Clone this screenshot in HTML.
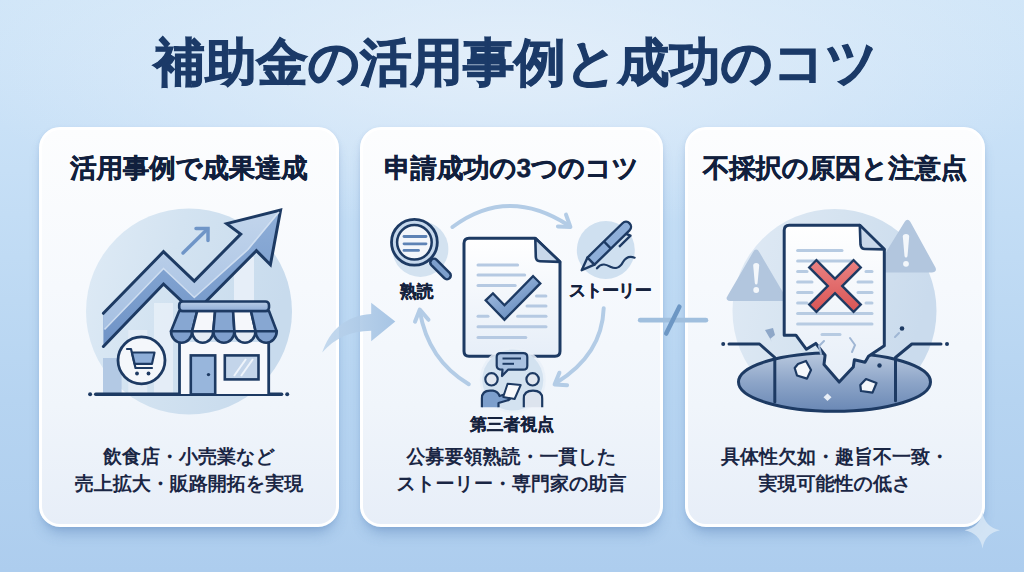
<!DOCTYPE html>
<html lang="ja">
<head>
<meta charset="utf-8">
<style>
*{margin:0;padding:0;box-sizing:border-box}
html,body{width:1024px;height:572px;overflow:hidden}
body{position:relative;font-family:"Liberation Sans",sans-serif;text-rendering:geometricPrecision;
background:
 radial-gradient(ellipse 560px 170px at 512px 60px, rgba(228,239,250,0.92) 0%, rgba(228,239,250,0) 100%),
 linear-gradient(180deg,#d1e6f8 0%,#c9e1f7 22%,#c0dbf4 45%,#b6d4f1 70%,#adcdee 100%);}
.title{position:absolute;left:4px;width:1024px;top:31.5px;text-align:center;font-size:51.3px;font-weight:700;color:#1b3a68;-webkit-text-stroke:1.1px #1b3a68;letter-spacing:0;line-height:62px;white-space:nowrap}
.card{position:absolute;top:127px;height:400px;border-radius:21px;border:3px solid #fff;
background:linear-gradient(180deg,#fcfdfe 0%,#f6f9fd 40%,#f0f5fb 70%,#e7eef8 100%);
box-shadow:0 10px 14px -5px rgba(60,105,165,0.38),0 1px 4px rgba(70,115,170,0.12);overflow:hidden}
.c1{left:39px;width:300px}
.c2{left:360px;width:303px}
.c3{left:685px;width:300px}
.h{position:absolute;left:0;right:0;top:22px;text-align:center;font-size:26.3px;font-weight:700;color:#111f3d;-webkit-text-stroke:0.45px #111f3d;line-height:32px;white-space:nowrap}
.b{position:absolute;left:0;right:0;top:314px;text-align:center;font-size:19px;font-weight:700;color:#1a2644;line-height:27px;white-space:nowrap}
svg.ill{position:absolute;left:0;top:0}
.lbl{position:absolute;font-size:16.8px;font-weight:700;color:#15223d;-webkit-text-stroke:0.3px #15223d;white-space:nowrap;line-height:20px}
</style>
</head>
<body>
<div class="title">補助金の活用事例と成功のコツ</div>

<div class="card c1">
 <div class="h">活用事例で成果達成</div>
 <div class="b">飲食店・小売業など<br>売上拡大・販路開拓を実現</div>
</div>

<div class="card c2">
 <div class="h">申請成功の3つのコツ</div>
 <div class="b">公募要領熟読・一貫した<br>ストーリー・専門家の助言</div>
</div>

<div class="card c3">
 <div class="h">不採択の原因と注意点</div>
 <div class="b">具体性欠如・趣旨不一致・<br>実現可能性の低さ</div>
</div>


<svg class="page" width="1024" height="572" viewBox="0 0 1024 572" style="position:absolute;left:0;top:0">
<defs>
 <linearGradient id="circ1" x1="0" y1="0" x2="1" y2="0.3">
  <stop offset="0" stop-color="#dfebf6"/><stop offset="0.45" stop-color="#d3e3f1"/><stop offset="1" stop-color="#c8dbed"/>
 </linearGradient>
 <linearGradient id="bandTop" x1="0" y1="0" x2="0" y2="1">
  <stop offset="0" stop-color="#c2d5ec"/><stop offset="1" stop-color="#a6c0e2"/>
 </linearGradient>
 <linearGradient id="bandBot" x1="0" y1="0" x2="0" y2="1">
  <stop offset="0" stop-color="#8eaed8"/><stop offset="1" stop-color="#6f93c6"/>
 </linearGradient>
 <linearGradient id="awn" x1="0" y1="0" x2="0" y2="1">
  <stop offset="0" stop-color="#b9cde7"/><stop offset="1" stop-color="#8eacd6"/>
 </linearGradient>

 <linearGradient id="docg" x1="0" y1="0" x2="0" y2="1">
  <stop offset="0" stop-color="#ffffff"/><stop offset="1" stop-color="#e6eef8"/>
 </linearGradient>
 <linearGradient id="chk" x1="0" y1="0" x2="1" y2="1">
  <stop offset="0" stop-color="#a9c2e4"/><stop offset="1" stop-color="#5f86ba"/>
 </linearGradient>
 <linearGradient id="circ3" x1="0" y1="0" x2="1" y2="0.3">
  <stop offset="0" stop-color="#e0eaf5"/><stop offset="0.5" stop-color="#d5e3f0"/><stop offset="1" stop-color="#cadbed"/>
 </linearGradient>
 <linearGradient id="hole" x1="0" y1="0" x2="0" y2="1">
  <stop offset="0" stop-color="#b9c9df"/><stop offset="0.5" stop-color="#8da5c8"/><stop offset="1" stop-color="#6a88b5"/>
 </linearGradient>
 <linearGradient id="bigarr" x1="0" y1="0" x2="1" y2="0">
  <stop offset="0" stop-color="#bcd4ec" stop-opacity="0.85"/><stop offset="1" stop-color="#a3c2e3" stop-opacity="0.95"/>
 </linearGradient>

 <linearGradient id="redg" gradientUnits="userSpaceOnUse" x1="0" y1="262" x2="0" y2="310">
  <stop offset="0" stop-color="#ea8080"/><stop offset="1" stop-color="#d95757"/>
 </linearGradient>
</defs>

<!-- ===== Card 1 illustration ===== -->
<circle cx="189" cy="311.5" r="103" fill="url(#circ1)"/>
<rect x="103" y="358" width="18.6" height="36" fill="#b3c9e4"/>
<rect x="128.3" y="330" width="19" height="64" fill="#e3ecf6" opacity="0.9"/>
<rect x="154" y="303" width="19" height="91" fill="#e6eef7" opacity="0.9"/>
<rect x="234" y="257" width="20" height="50" fill="#e9f0f8" opacity="0.9"/>
<!-- arrow band -->
<polygon points="103.4,313.3 163.5,251.7 194.3,281.1 240.7,234.1 226.7,223.6 280.6,210.1 270.4,264.7 256.4,250.7 194.3,313.2 163.5,284 103.4,346.5" fill="url(#bandBot)"/>
<polygon points="103.4,313.3 163.5,251.7 194.3,281.1 240.7,234.1 226.7,223.6 280.6,210.1 248,249 194.3,297 163.5,268 103.4,330" fill="url(#bandTop)"/>
<polyline points="103.4,313.3 163.5,251.7 194.3,281.1 240.7,234.1 226.7,223.6 280.6,210.1 270.4,264.7 256.4,250.7 194.3,313.2 163.5,284 103.4,346.5" fill="none" stroke="#1d3a63" stroke-width="3" stroke-linejoin="miter" stroke-linecap="round"/>
<polyline points="104.5,329.5 163.5,268.5 194.3,297.5 248,249.5 279,212" fill="none" stroke="#dce8f6" stroke-width="1.6" opacity="0.85"/>
<!-- small arrow -->
<g stroke="#6f95c7" stroke-width="3.5" stroke-linecap="round" fill="none">
 <line x1="183" y1="253" x2="207.5" y2="229"/>
 <polyline points="196,228.5 208,228.5 208,240.5"/>
</g>
<!-- ground -->
<line x1="95.7" y1="394.2" x2="281.6" y2="394.2" stroke="#1d3a63" stroke-width="3.5" stroke-linecap="round"/>
<circle cx="90.1" cy="394.2" r="2" fill="#1d3a63"/><circle cx="287.2" cy="394.2" r="2" fill="#1d3a63"/>
<!-- cart circle -->
<circle cx="141.5" cy="360.3" r="23.5" fill="#f4f7fb" stroke="#1d3a63" stroke-width="2.8"/>
<g stroke="#1d3a63" stroke-width="2.2" fill="none" stroke-linejoin="round" stroke-linecap="round">
 <polyline points="127,349 131,349 135.5,368 152,368"/>
 <path d="M132,352.5 L154.5,352.5 L152,363.8 L134.6,363.8 Z" fill="#8eaed8"/>
</g>
<circle cx="137" cy="373.5" r="1.9" fill="#1d3a63"/><circle cx="148.5" cy="373.5" r="1.9" fill="#1d3a63"/>
<!-- store -->
<rect x="179" y="342" width="90" height="52" fill="#f6f8fc"/>
<line x1="179.5" y1="340" x2="179.5" y2="394" stroke="#1d3a63" stroke-width="2.8"/>
<line x1="268.7" y1="340" x2="268.7" y2="394" stroke="#1d3a63" stroke-width="2.8"/>
<rect x="190.8" y="355.4" width="24.4" height="39" fill="#98b6dc" stroke="#1d3a63" stroke-width="2.6"/>
<circle cx="208.5" cy="374.6" r="1.7" fill="#1d3a63"/>
<rect x="224.8" y="355.4" width="33.7" height="24" fill="#c3d5ea" stroke="#1d3a63" stroke-width="2.6"/>
<g stroke="#eef4fb" stroke-width="2"><line x1="234" y1="376" x2="246" y2="359"/><line x1="241" y1="376" x2="253" y2="359"/></g>
<!-- awning -->
<g stroke="#1d3a63" stroke-width="2.6" stroke-linejoin="round">
 <polygon points="179.2,311 197.2,311 192.1,331.3 171,331.3" fill="#87a7d2"/>
 <polygon points="197.2,311 215.1,311 213.3,331.3 192.1,331.3" fill="#f5f7fb"/>
 <polygon points="215.1,311 233.1,311 234.4,331.3 213.3,331.3" fill="#87a7d2"/>
 <polygon points="233.1,311 251,311 255.6,331.3 234.4,331.3" fill="#f5f7fb"/>
 <polygon points="251,311 269,311 276.7,331.3 255.6,331.3" fill="#87a7d2"/>
 <path d="M171,331.3 a10.57,11.5 0 0 0 21.14,0 Z" fill="#7f9fcd"/>
 <path d="M192.1,331.3 a10.57,11.5 0 0 0 21.14,0 Z" fill="#e4ebf5"/>
 <path d="M213.3,331.3 a10.57,11.5 0 0 0 21.14,0 Z" fill="#7f9fcd"/>
 <path d="M234.4,331.3 a10.57,11.5 0 0 0 21.14,0 Z" fill="#e4ebf5"/>
 <path d="M255.6,331.3 a10.57,11.5 0 0 0 21.14,0 Z" fill="#7f9fcd"/>
 <rect x="179.2" y="301.5" width="89.8" height="9.5" rx="3.5" fill="url(#awn)"/>
</g>

<!-- ===== Card 2 illustration ===== -->
<g fill="none" stroke="#b3cce6" stroke-width="4" stroke-linecap="round" stroke-linejoin="round">
 <path d="M452.5,227 Q507.4,186 568,225"/>
 <polyline points="566,214.6 570.4,227 557.9,226.4"/>
 <path d="M603.7,308.3 Q602,355 556,383"/>
 <polyline points="559.4,372.7 554.6,384.4 567.1,385.2"/>
 <path d="M468.8,384.2 Q428,360 419.8,311"/>
 <polyline points="415,321.7 419.8,309.5 428.5,319.8"/>
</g>
<!-- magnifier -->
<circle cx="420.4" cy="249" r="28" fill="#d3e2f0"/>
<line x1="434" y1="262.5" x2="447" y2="275.5" stroke="#1d3a63" stroke-width="10" stroke-linecap="round"/>
<line x1="434" y1="262.5" x2="447" y2="275.5" stroke="#7d9fcc" stroke-width="5" stroke-linecap="round"/>
<circle cx="414.4" cy="242.3" r="22.9" fill="#c6d8ec" stroke="#1d3a63" stroke-width="2.8"/>
<circle cx="414.4" cy="242.3" r="17.3" fill="#f3f6fb" stroke="#1d3a63" stroke-width="2.5"/>
<g stroke="#5d82b5" stroke-width="2.8" stroke-linecap="round">
 <line x1="404" y1="236.5" x2="426" y2="236.5"/><line x1="404" y1="243.8" x2="426" y2="243.8"/><line x1="404" y1="250.4" x2="418.5" y2="250.4"/>
</g>
<!-- pen -->
<circle cx="605.8" cy="250" r="29" fill="#cfe0f0"/>
<g transform="translate(581.7,270.2) rotate(-44.4)" stroke="#1d3a63" stroke-width="2.4" stroke-linejoin="round">
 <path d="M0,0 L13,-5 L13,5 Z" fill="#c6d7ec"/>
 <path d="M13,-5 L62,-5 A5,5 0 0 1 62,5 L13,5 Z" fill="#8fafd9"/>
 <line x1="36" y1="-5" x2="36" y2="5"/>
 <polyline points="57,5 59,9.5 43,9.5" fill="none"/>
</g>
<path d="M597,268.3 C602,262 607,265 611,267 C615,269 620,268 623,262 C626,257 630,256 634.6,257.7" fill="none" stroke="#1d3a63" stroke-width="2.2" stroke-linecap="round"/>
<!-- document -->
<path d="M469,238.3 L535.3,238.3 L560,261.9 L560,351.3 Q560,356.3 555,356.3 L469,356.3 Q464,356.3 464,351.3 L464,243.3 Q464,238.3 469,238.3 Z" fill="url(#docg)" stroke="#1d3a63" stroke-width="3" stroke-linejoin="round"/>
<path d="M535.3,238.3 L535.8,257 Q536,261 540,261.2 L560,261.9 Z" fill="#c9d8ea" stroke="#1d3a63" stroke-width="2.6" stroke-linejoin="round"/>
<g stroke="#b5c9e2" stroke-width="3" stroke-linecap="round">
 <line x1="478" y1="264.9" x2="517.6" y2="264.9"/>
 <line x1="478" y1="274.9" x2="524.7" y2="274.9"/>
 <line x1="478" y1="285.5" x2="515.2" y2="285.5"/>
 <line x1="536.5" y1="296.1" x2="545.9" y2="296.1"/>
 <line x1="527" y1="306" x2="546" y2="306"/>
 <line x1="478" y1="316.2" x2="488" y2="316.2"/><line x1="517.6" y1="316.2" x2="546" y2="316.2"/>
 <line x1="478" y1="326.8" x2="546" y2="326.8"/>
 <line x1="478" y1="337.4" x2="525.8" y2="337.4"/>
</g>
<polyline points="488.5,296 504.5,312.5 537.5,279" fill="none" stroke="#1d3a63" stroke-width="12.5" stroke-linejoin="miter" stroke-linecap="butt"/>
<polyline points="490.1,297.7 504.5,312.5 535.9,280.6" fill="none" stroke="url(#chk)" stroke-width="7.8" stroke-linejoin="miter" stroke-linecap="butt"/>
<!-- people -->
<circle cx="512.8" cy="380" r="33" fill="#e9f0f8" opacity="0.85"/>
<circle cx="512.8" cy="380" r="30.5" fill="#d3e2f0"/>
<g stroke="#1d3a63" stroke-width="2.2" stroke-linejoin="round">
 <path d="M500.7,353.1 L523.3,353.1 Q527.3,353.1 527.3,357.1 L527.3,365.7 Q527.3,369.7 523.3,369.7 L508,369.7 L502,376 L502.5,369.7 Q496.7,369.7 496.7,365.7 L496.7,357.1 Q496.7,353.1 500.7,353.1 Z" fill="#a9c1e0"/>
 <line x1="502.5" y1="358.5" x2="521" y2="358.5" stroke-width="2"/>
 <line x1="502.5" y1="363.8" x2="514" y2="363.8" stroke-width="2"/>
 <circle cx="491.5" cy="379.3" r="6.2" fill="#e1e7f0"/>
 <circle cx="532.6" cy="379.3" r="6.2" fill="#e1e7f0"/>
 <path d="M523.8,407.3 L523.8,398.5 Q523.8,390.7 533,390.7 Q542.2,390.7 542.2,398.5 L542.2,407.3" fill="#dde4ee"/>
 <path d="M481.9,407.3 L481.9,398.5 Q481.9,390.7 490,390.7 L493,390.7 Q498,391.5 499.5,396 L506,394 Q510,393.5 510.5,396.5 Q511,399.5 507,400.5 L498.5,403 L498.5,407.3" fill="#7d9fcc"/>
 <path d="M507.6,383.7 L520.7,385 L514.6,399 L503.2,397 Z" fill="#f7f9fc" stroke-width="2"/>
</g>

<!-- ===== Card 3 illustration ===== -->
<circle cx="834.5" cy="311" r="102" fill="url(#circ3)"/>
<path d="M754.6,252.5 Q756.2,249.5 757.8,252.5 L784,297 Q785.5,299.5 782,299.5 L730.5,299.5 Q727,299.5 728.6,297 Z" fill="#b2c6de" stroke="#b2c6de" stroke-width="3" stroke-linejoin="round"/>
<path d="M906,222.5 Q907.5,220 909,222.5 L934,268 Q935.5,271 932,271 L880,271 Q876.5,271 878,268 Z" fill="#b2c6de" stroke="#b2c6de" stroke-width="3" stroke-linejoin="round"/>
<path d="M753.2,265.5 Q753.2,263 756.2,263 Q759.2,263 759.2,265.5 L757.6,283 Q757.3,284.5 756.2,284.5 Q755.1,284.5 754.8,283 Z" fill="#f3f7fb"/>
<path d="M902.8,236.5 Q902.8,234 906,234 Q909.2,234 909.2,236.5 L907.5,256 Q907.2,257.5 906,257.5 Q904.8,257.5 904.5,256 Z" fill="#f3f7fb"/>
<circle cx="756.2" cy="290" r="2.9" fill="#f3f7fb"/><circle cx="906" cy="263.8" r="2.9" fill="#f3f7fb"/>
<!-- hole -->
<ellipse cx="834.5" cy="382" rx="96" ry="29.3" fill="url(#hole)" stroke="#1d3a63" stroke-width="3"/>
<g fill="none" stroke="#1d3a63" stroke-width="3" stroke-linecap="round" stroke-linejoin="round">
 <polyline points="729,344 759.5,344 774.8,357.5 774.8,402"/>
 <polyline points="941,344 911.9,344 895.5,357.5 895.5,400.8"/>
</g>
<circle cx="723.2" cy="344" r="2" fill="#1d3a63"/><circle cx="947" cy="344" r="2" fill="#1d3a63"/>
<!-- torn document -->
<path d="M784.2,335.2 L784.2,230.2 Q784.2,225.2 789.2,225.2 L859.8,225.2 L884.3,249.4 L884.3,345.8 L868.5,356.3 L865,362.2 L854.4,359.8 L853.3,366.9 L839.2,382.1 L824,364.5 L825.1,355.2 L815.8,343.4 L806.4,349.3 L795.9,335.2 Z" fill="url(#docg)" stroke="#1d3a63" stroke-width="3" stroke-linejoin="round"/>
<path d="M859.8,225.2 L860.5,244.5 Q861,249 865,249 L884.3,249.4 Z" fill="#c9d8ea" stroke="#1d3a63" stroke-width="2.6" stroke-linejoin="round"/>
<g stroke="#b7cbe2" stroke-width="3" stroke-linecap="round">
 <line x1="797.6" y1="250.4" x2="842" y2="250.4"/>
 <line x1="797.6" y1="261" x2="852" y2="261"/>
 <line x1="797.6" y1="271.4" x2="807" y2="271.4"/><line x1="866" y1="271.4" x2="872" y2="271.4"/>
 <line x1="797.6" y1="282" x2="812" y2="282"/><line x1="858" y1="282" x2="872" y2="282"/>
 <line x1="797.6" y1="292.4" x2="812" y2="292.4"/><line x1="858" y1="292.4" x2="872" y2="292.4"/>
 <line x1="797.6" y1="302.9" x2="807" y2="302.9"/><line x1="866" y1="302.9" x2="872" y2="302.9"/>
 <line x1="797.6" y1="313.4" x2="872" y2="313.4"/>
 <line x1="797.6" y1="323.9" x2="872" y2="323.9"/>
 <line x1="822" y1="334.4" x2="840" y2="334.4"/>
</g>
<g fill="none" stroke="#9fb6d4" stroke-width="2" stroke-linecap="round">
 <polyline points="824,341 819,346 821,354"/>
 <polyline points="850,338 855,345 852,352"/>
</g>
<g stroke-linecap="butt">
 <line x1="812" y1="263" x2="858" y2="309" stroke="#1d3a63" stroke-width="12.5"/>
 <line x1="858" y1="263" x2="812" y2="309" stroke="#1d3a63" stroke-width="12.5"/>
 <line x1="813.6" y1="264.6" x2="856.4" y2="307.4" stroke="url(#redg)" stroke-width="7.8"/>
 <line x1="856.4" y1="264.6" x2="813.6" y2="307.4" stroke="url(#redg)" stroke-width="7.8"/>
</g>
<!-- shards -->
<g stroke="#1d3a63" stroke-width="2.2" stroke-linejoin="round">
 <polygon points="798,364 806,361 811,370 807,378.6 797,375.5 794.7,368" fill="#f4f7fb"/>
 <polygon points="866,379 876.5,383 872.5,392.7 861,391 860.3,385" fill="#f4f7fb"/>
</g>
<polygon points="827.5,393.5 831.5,397.3 827.5,401 823.5,397.3" fill="#e9eff7"/>
<circle cx="879.5" cy="365.5" r="2.2" fill="#1d3a63"/>
<polygon points="765,330 773,328 775,335 770,339 772,342" fill="#8ea7c8"/>
<circle cx="902" cy="328.5" r="2.3" fill="#1d3a63"/>
<line x1="899" y1="333" x2="895" y2="337" stroke="#9fb6d4" stroke-width="2" stroke-linecap="round"/>
<!-- connectors -->
<path d="M322.2,352.6 C330,330 345,316 371.2,314 L371.2,302.7 L395.3,321.6 L371.2,341.2 L371.2,330.7 C350,331 335,338 322.2,352.6 Z" fill="url(#bigarr)"/>
<line x1="640.2" y1="320.2" x2="705.9" y2="320.2" stroke="#a0bfde" stroke-width="4.7" stroke-linecap="round"/>
<line x1="679.4" y1="306.7" x2="666.2" y2="333.6" stroke="#6d97c4" stroke-width="4.5" stroke-linecap="round"/>
<!-- sparkle -->
<path d="M982.5,512 Q985,527.5 1000,530.2 Q985,533 982.5,548.5 Q980,533 964.5,530.2 Q980,527.5 982.5,512 Z" fill="#d8e7f6" opacity="0.85"/>
</svg>

<div class="lbl" style="left:400px;top:281.5px">熟読</div>
<div class="lbl" style="left:569px;top:281px;letter-spacing:-0.6px">ストーリー</div>
<div class="lbl" style="left:470px;top:415px">第三者視点</div>
</body>
</html>
